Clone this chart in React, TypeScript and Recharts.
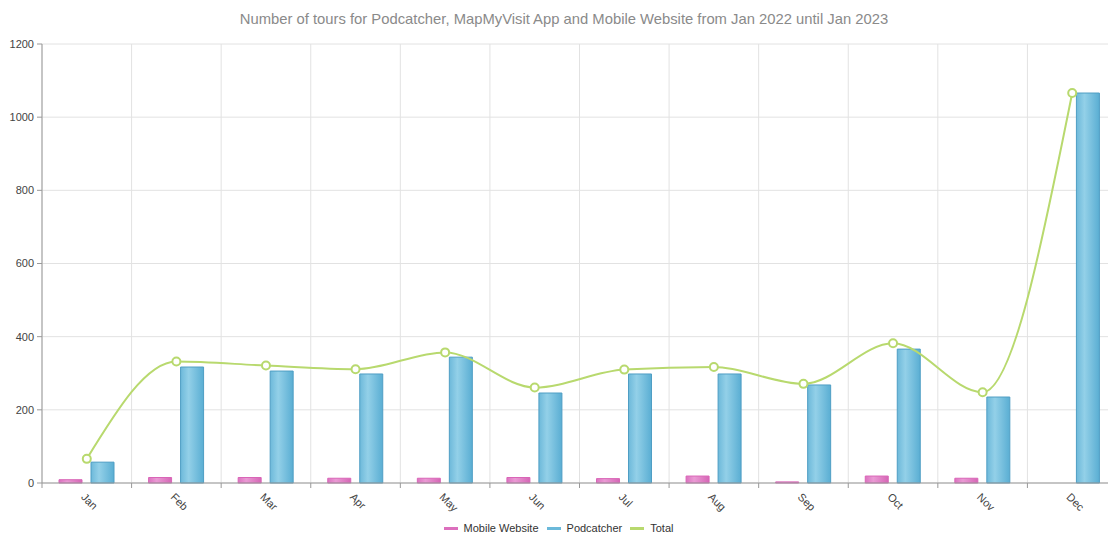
import {
  ComposedChart,
  Bar,
  Line,
  XAxis,
  YAxis,
  CartesianGrid,
  Legend,
} from "recharts";

const months = ["Jan", "Feb", "Mar", "Apr", "May", "Jun", "Jul", "Aug", "Sep", "Oct", "Nov", "Dec"];
const mobileWebsite = [9, 15, 15, 13, 13, 15, 12, 19, 3, 19, 13, 0];
const podcatcher = [57, 317, 306, 298, 344, 246, 298, 298, 268, 366, 235, 1066];
const total = [66, 332, 321, 311, 357, 261, 310, 317, 271, 382, 248, 1066];
const yTicks = [0, 200, 400, 600, 800, 1000, 1200];

const data = months.map((m, i) => ({
  month: m,
  mobile: mobileWebsite[i],
  podcatcher: podcatcher[i],
  total: total[i],
}));

const CHART_W = 1128;
const CHART_H = 535;
const Y_W = 42;
const RIGHT = 11;
const BAND = (CHART_W - Y_W - RIGHT) / months.length;

const PINK = "#d965b7";
const GREEN = "#b8d96e";

// month label rotated 45deg plus a tick mark on the category boundary
function MonthTick(props: any) {
  const { x, y, payload } = props;
  const bx = x - BAND / 2;
  return (
    <g>
      <line x1={bx} x2={bx} y1={y - 7} y2={y - 2} stroke="#999" />
      <text
        x={x}
        y={y}
        transform={`rotate(45, ${x}, ${y})`}
        textAnchor="start"
        dy={10}
        dx={1}
        fontSize={11}
        fill="#444"
      >
        {payload.value}
      </text>
    </g>
  );
}

const legendItems = [
  { label: "Mobile Website", color: "#dc6fbd" },
  { label: "Podcatcher", color: "#6bb9da" },
  { label: "Total", color: GREEN },
];

function SimpleLegend() {
  return (
    <div
      style={{
        display: "flex",
        justifyContent: "center",
        alignItems: "center",
        paddingTop: 11,
        fontSize: 11,
        lineHeight: "12px",
        color: "#333",
      }}
    >
      {legendItems.map((it) => (
        <span key={it.label} style={{ display: "flex", alignItems: "center", margin: "0 4px" }}>
          <span style={{ width: 14, height: 3, background: it.color, marginRight: 6 }} />
          {it.label}
        </span>
      ))}
    </div>
  );
}

export default function App() {
  return (
    <div
      style={{
        position: "fixed",
        left: 0,
        top: 0,
        width: 1108,
        height: 535,
        overflow: "hidden",
        background: "#fff",
        fontFamily: "'Liberation Sans', Arial, sans-serif",
      }}
    >
      <div style={{ position: "relative", width: CHART_W, height: CHART_H }}>
        <div
          style={{
            position: "absolute",
            top: 10,
            left: 0,
            width: CHART_W,
            textAlign: "center",
            fontSize: 14.8,
            lineHeight: "18px",
            color: "#8a8a8a",
          }}
        >
          Number of tours for Podcatcher, MapMyVisit App and Mobile Website from Jan 2022 until Jan 2023
        </div>
        <ComposedChart
          width={CHART_W}
          height={CHART_H}
          data={data}
          margin={{ top: 44, right: RIGHT, left: 0, bottom: 0 }}
          barSize={23}
          barGap={9}
        >
          <defs>
            <linearGradient id="gradBlue" x1="0" y1="0" x2="1" y2="0">
              <stop offset="0%" stopColor="#6db9da" />
              <stop offset="35%" stopColor="#93d0e8" />
              <stop offset="100%" stopColor="#5aaed3" />
            </linearGradient>
            <linearGradient id="gradPink" x1="0" y1="0" x2="1" y2="0">
              <stop offset="0%" stopColor="#dc72c0" />
              <stop offset="35%" stopColor="#ea9ad4" />
              <stop offset="100%" stopColor="#d666b6" />
            </linearGradient>
          </defs>
          <CartesianGrid
            stroke="#e2e2e2"
            verticalCoordinatesGenerator={({ offset }: any) =>
              months.map((_, i) => offset.left + (i * offset.width) / months.length)
            }
          />
          <XAxis
            dataKey="month"
            height={28}
            tickLine={false}
            tickSize={5}
            tickMargin={2}
            axisLine={{ stroke: "#999" }}
            tick={<MonthTick />}
            interval={0}
          />
          <YAxis
            width={Y_W}
            domain={[0, 1200]}
            ticks={yTicks}
            tickSize={5}
            tickMargin={3}
            axisLine={{ stroke: "#999" }}
            tickLine={{ stroke: "#999" }}
            tick={{ fontSize: 11, fill: "#444" }}
          />
          <Legend verticalAlign="bottom" height={24} content={<SimpleLegend />} />
          <Bar
            dataKey="mobile"
            name="Mobile Website"
            fill="url(#gradPink)"
            stroke={PINK}
            strokeWidth={1}
            isAnimationActive={false}
          />
          <Bar
            dataKey="podcatcher"
            name="Podcatcher"
            fill="url(#gradBlue)"
            stroke="#4f9ec4"
            strokeWidth={1}
            isAnimationActive={false}
          />
          <Line
            type="monotone"
            dataKey="total"
            name="Total"
            stroke={GREEN}
            strokeWidth={2}
            dot={{ r: 4, fill: "#fff", stroke: GREEN, strokeWidth: 2 }}
            activeDot={false}
            isAnimationActive={false}
          />
        </ComposedChart>
      </div>
    </div>
  );
}
